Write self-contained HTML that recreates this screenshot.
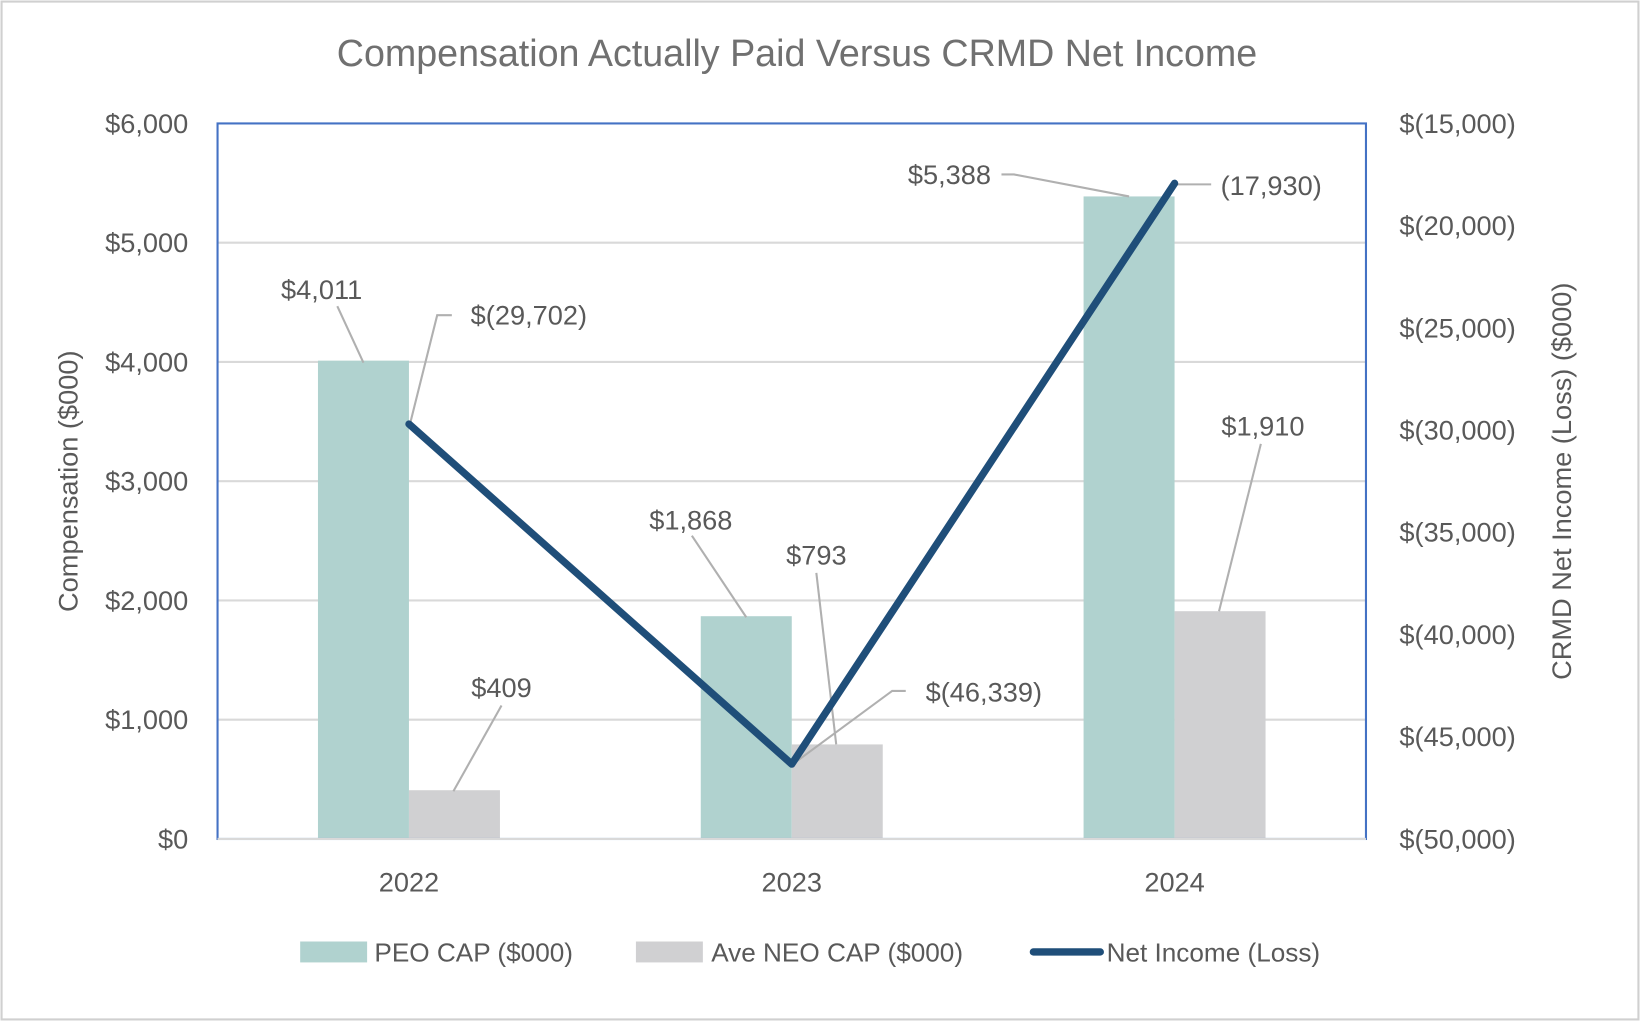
<!DOCTYPE html>
<html><head><meta charset="utf-8">
<style>
html,body{margin:0;padding:0;background:#fff;}
svg{display:block;font-family:"Liberation Sans",sans-serif;}
</style></head>
<body>
<svg id="chart" width="1640" height="1021" viewBox="0 0 1568 976" preserveAspectRatio="none">
<rect x="1.5" y="1.5" width="1565" height="973" fill="#fff" stroke="#d0d0d0" stroke-width="2"/>
<text x="762" y="63" text-anchor="middle" font-size="36" fill="#707070">Compensation Actually Paid Versus CRMD Net Income</text>
<g id="grid"></g>
<g id="bars"></g>
<g id="leaders"></g>
<g id="lineg"></g>
<rect x="208" y="118" width="1098" height="684" fill="none" stroke="#4472c4" stroke-width="2"/>
<line x1="208" y1="802" x2="1306" y2="802" stroke="#d9d9d9" stroke-width="2"/>
<g id="ticks" font-size="26" fill="#595959"></g>
<text transform="translate(74,460) rotate(-90)" text-anchor="middle" font-size="26" fill="#595959">Compensation ($000)</text>
<text transform="translate(1502,460) rotate(-90)" text-anchor="middle" font-size="26" fill="#595959">CRMD Net Income (Loss) ($000)</text>
<g id="labels" font-size="26" fill="#595959"></g>
<g font-size="25" fill="#595959">
<rect x="287" y="900" width="64" height="20" fill="#b0d2cf"/>
<text x="358" y="919">PEO CAP ($000)</text>
<rect x="608" y="900" width="64" height="20" fill="#d0d0d2"/>
<text x="680" y="919">Ave NEO CAP ($000)</text>
<line x1="988" y1="910" x2="1052" y2="910" stroke="#1f4e79" stroke-width="7" stroke-linecap="round"/>
<text x="1058" y="919">Net Income (Loss)</text>
</g>
</svg>
<script>
const categories = ["2022","2023","2024"];
const peoCap = [4011, 1868, 5388];
const neoCap = [409, 793, 1910];
const netIncome = [-29702, -46339, -17930];
const peoLabels = ["$4,011","$1,868","$5,388"];
const neoLabels = ["$409","$793","$1,910"];
const netLabels = ["$(29,702)","$(46,339)","(17,930)"];
const leftTicks = [0,1000,2000,3000,4000,5000,6000];
const leftTickLabels = ["$0","$1,000","$2,000","$3,000","$4,000","$5,000","$6,000"];
const rightTicks = [-50000,-45000,-40000,-35000,-30000,-25000,-20000,-15000];
const rightTickLabels = ["$(50,000)","$(45,000)","$(40,000)","$(35,000)","$(30,000)","$(25,000)","$(20,000)","$(15,000)"];

const NS="http://www.w3.org/2000/svg";
const X0=208,X1=1306,Y0=802,Y1=118;
const yL=v=>Y0-(v/6000)*(Y0-Y1);
const yR=v=>Y0-((v+50000)/35000)*(Y0-Y1);
const band=(X1-X0)/categories.length;
const xC=i=>X0+band*(i+0.5);
const BW=87;
function mk(tag,attrs,parent){const e=document.createElementNS(NS,tag);for(const k in attrs)e.setAttribute(k,attrs[k]);parent.appendChild(e);return e;}
const grid=document.getElementById('grid'),ticks=document.getElementById('ticks'),bars=document.getElementById('bars'),leaders=document.getElementById('leaders'),labels=document.getElementById('labels'),lineg=document.getElementById('lineg');

leftTicks.forEach((v,i)=>{
  if(v>0&&v<6000){const l=mk('line',{x1:X0,x2:X1,y1:yL(v),y2:yL(v),stroke:'#d9d9d9','stroke-width':2},grid);
  
  }
  const t=mk('text',{x:180,y:yL(v)+9,'text-anchor':'end'},ticks);t.textContent=leftTickLabels[i];
  
  
});
rightTicks.forEach((v,i)=>{
  const t=mk('text',{x:1338,y:yR(v)+9},ticks);t.textContent=rightTickLabels[i];
  
  
});
categories.forEach((c,i)=>{
  const t=mk('text',{x:xC(i),y:852,'text-anchor':'middle'},ticks);t.textContent=c;
  
  
  const b1=mk('rect',{x:xC(i)-BW,y:yL(peoCap[i]),width:BW,height:Y0-yL(peoCap[i]),fill:'#b0d2cf'},bars);
  
  
  const b2=mk('rect',{x:xC(i),y:yL(neoCap[i]),width:BW,height:Y0-yL(neoCap[i]),fill:'#d0d0d2'},bars);
  
  
});
const pts=netIncome.map((v,i)=>xC(i)+','+yR(v)).join(' ');
const pl=mk('polyline',{points:pts,fill:'none',stroke:'#1f4e79','stroke-width':7,'stroke-linejoin':'round','stroke-linecap':'round'},lineg);



function leader(pts){const p=mk('polyline',{points:pts.map(q=>q.join(',')).join(' '),fill:'none',stroke:'#b0b0b0','stroke-width':2},leaders);
  
  }
function lab(x,y,txt,anchor,name){const t=mk('text',{x:x,y:y,'text-anchor':anchor},labels);t.textContent=txt;
  
  }

// label layout: [text dx, text dy, anchor, leader points relative to anchor]
const peoLayout=[
  [-40,-59,'middle',[[-25,-52],[0,2]]],
  [-53,-83,'middle',[[-52,-77],[0,1]]],
  [-132,-12,'end',[[-122,-21],[-110,-21],[0,0]]]
];
const neoLayout=[
  [45,-89,'middle',[[45,-81],[-1,1]]],
  [-20,-172,'middle',[[-20,-164],[-1,0]]],
  [41,-168,'middle',[[39,-160],[-1,0]]]
];
const netLayout=[
  [59,-95,'start',[[41,-104],[27,-104],[1,0]]],
  [128,-60,'start',[[109,-70],[96,-70],[1,0]]],
  [44,11,'start',[[35,1],[2,1]]]
];
function place(ax,ay,txt,L,name){
  lab(ax+L[0],ay+L[1],txt,L[2],name);
  leader(L[3].map(p=>[ax+p[0],ay+p[1]]));
}
categories.forEach((c,i)=>{
  place(xC(i)-BW/2, yL(peoCap[i]), peoLabels[i], peoLayout[i], 'peo-value-label');
  place(xC(i)+BW/2, yL(neoCap[i]), neoLabels[i], neoLayout[i], 'neo-value-label');
  place(xC(i), yR(netIncome[i]), netLabels[i], netLayout[i], 'net-income-value-label');
});
</script>
</body></html>
